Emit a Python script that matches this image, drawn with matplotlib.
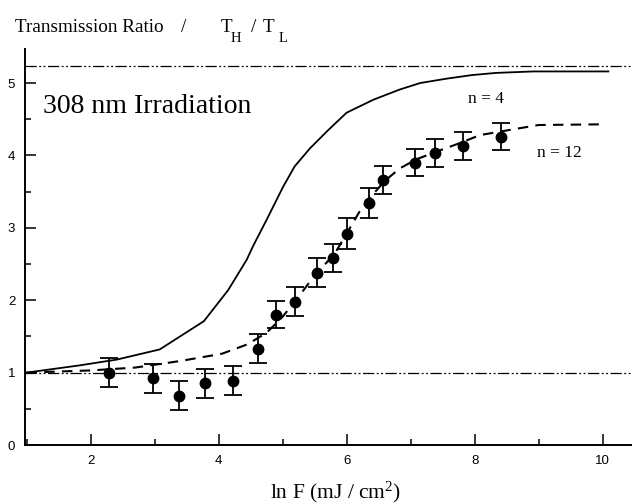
import matplotlib
matplotlib.use("Agg")
import matplotlib.pyplot as plt
from matplotlib.ticker import MultipleLocator

plt.rcParams['mathtext.fontset'] = 'custom'
plt.rcParams['mathtext.rm'] = 'Liberation Serif'
plt.rcParams['mathtext.it'] = 'Liberation Serif:italic'

# Measured data (n = 12 experiment)
data_x = [2.29, 2.97, 3.38, 3.79, 4.23, 4.61, 4.89, 5.19, 5.53, 5.79, 6.00, 6.35, 6.57, 7.07, 7.38, 7.82, 8.41]
data_y = [1.00, 0.92, 0.68, 0.85, 0.89, 1.33, 1.80, 1.98, 2.38, 2.58, 2.92, 3.34, 3.66, 3.90, 4.03, 4.13, 4.26]
data_err = [0.20, 0.20, 0.20, 0.20, 0.20, 0.20, 0.19, 0.20, 0.20, 0.19, 0.21, 0.21, 0.19, 0.19, 0.19, 0.19, 0.19]

# Model curve n = 4 (solid)
n4_x = [1.00, 1.83, 2.41, 3.08, 3.77, 4.15, 4.44, 4.54, 4.75, 5.01, 5.19, 5.43, 5.69, 6.00, 6.42, 6.83, 7.15, 7.56, 7.96, 8.34, 8.92, 10.09]
n4_y = [1.00, 1.10, 1.18, 1.32, 1.71, 2.14, 2.56, 2.75, 3.11, 3.57, 3.85, 4.10, 4.33, 4.59, 4.77, 4.91, 5.00, 5.06, 5.11, 5.14, 5.16, 5.16]

# Model curve n = 12 (dashed)
n12_x = [1.00, 2.00, 2.70, 3.40, 4.05, 4.45, 4.75, 5.00, 5.27, 5.53, 5.80, 6.00, 6.20, 6.40, 6.60, 6.83, 7.10, 7.46, 7.80, 8.08, 8.60, 9.00, 10.05]
n12_y = [1.00, 1.03, 1.07, 1.16, 1.26, 1.39, 1.55, 1.77, 2.07, 2.38, 2.62, 2.92, 3.22, 3.45, 3.65, 3.82, 3.95, 4.07, 4.18, 4.28, 4.36, 4.42, 4.43]

# Reference levels
ref_levels = [1.0, 5.24]

x_ticks = [2, 4, 6, 8, 10]
y_ticks = [0, 1, 2, 3, 4, 5]

W, H = 632, 504
fig = plt.figure(figsize=(W/100, H/100), dpi=100)
ax = fig.add_axes([25/W, 1-445/H, 1-25/W, (445-49)/H])

for lv in ref_levels:
    ax.axhline(lv, color='black', lw=0.9, linestyle=(0, (9, 2, 1.5, 2, 1.5, 2)))

ax.plot(n4_x, n4_y, color='black', lw=1.3)
ax.plot(n12_x, n12_y, color='black', lw=1.5, linestyle=(0, (5, 3.5)))
ax.errorbar(data_x, data_y, yerr=data_err, fmt='o', color='black', ms=7.5,
            elinewidth=1.3, capsize=6.5, capthick=1.3)

ax.set_xlim(0.975, 10.46)
ax.set_ylim(0, 5.47)
ax.spines['top'].set_visible(False)
ax.spines['right'].set_visible(False)
for s in ['left', 'bottom']:
    ax.spines[s].set_linewidth(1.4)

ax.set_xticks(x_ticks)
ax.set_yticks(y_ticks)
ax.xaxis.set_minor_locator(MultipleLocator(1))
ax.yaxis.set_minor_locator(MultipleLocator(0.5))
ax.tick_params(which='major', direction='in', length=8, width=1.1, pad=7)
ax.tick_params(which='minor', direction='in', length=4, width=1.1)
for lab in ax.get_xticklabels() + ax.get_yticklabels():
    lab.set_fontfamily('Liberation Sans')
    lab.set_fontsize(9.5)

serif = 'Liberation Serif'
ax.text(1.26, 4.59, '308 nm Irradiation', fontfamily=serif, fontsize=20, va='baseline')
ax.text(7.90, 4.73, 'n = 4', fontfamily=serif, fontsize=12.5, va='baseline')
ax.text(8.97, 3.98, 'n = 12', fontfamily=serif, fontsize=12.5, va='baseline')

# Title pieces (pixel positions)
def ftxt(px, py, s, size):
    fig.text(px/W, 1-py/H, s, fontfamily=serif, fontsize=size, va='baseline', ha='left')

ftxt(15, 31.7, 'Transmission Ratio', 13.8)
ftxt(181, 31.7, '/', 13.8)
ftxt(221, 31.7, 'T', 13.8)
ftxt(231, 41.7, 'H', 10.5)
ftxt(251, 31.7, '/', 13.8)
ftxt(263, 31.7, 'T', 13.8)
ftxt(279, 41.7, 'L', 10.5)

fig.text(336/W, 1-498/H, r'ln F (mJ / cm$^{2}$)',
         fontfamily=serif, fontsize=15.5, va='baseline', ha='center')

fig.savefig('out.png', dpi=100)
